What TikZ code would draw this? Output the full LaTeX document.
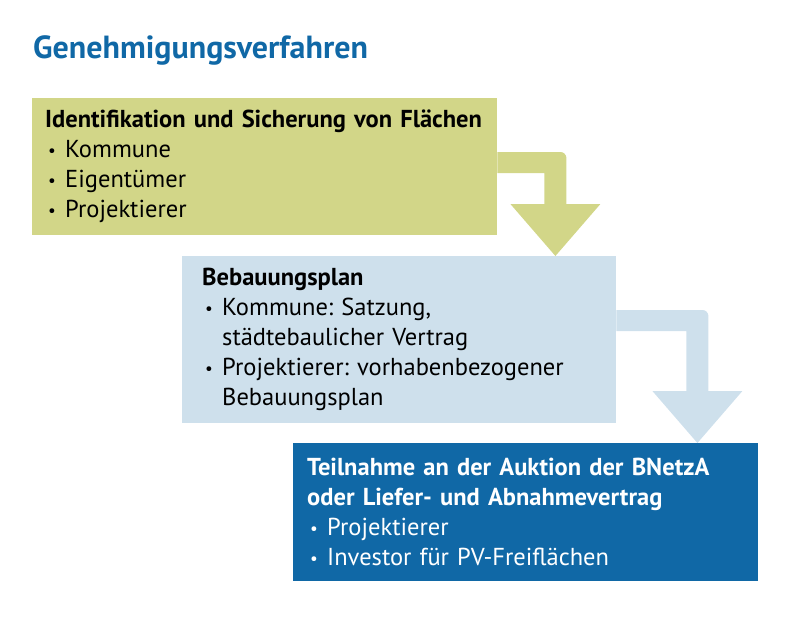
\documentclass[tikz,border=0pt]{standalone}
\usepackage{fontspec}
\setmainfont{PT Sans}
\usepackage{xcolor}
\usetikzlibrary{positioning,calc}
\definecolor{gruen}{HTML}{D2D688}
\definecolor{hellblau}{HTML}{CEE0EC}
\definecolor{dunkelblau}{HTML}{1068A6}
\frenchspacing
\newcommand{\punkt}[1]{\par\hangindent=20pt\hangafter=1\noindent\makebox[20pt][l]{\hspace{3pt}\raisebox{1.5pt}{\scalebox{0.7}{\textbullet}}}#1\par}
\newcommand{\stufenpfeil}[3]{%
  \fill[#1] let \p1=(#2.north east), \p2=($(#3.north east)+(-61,0)$) in
    (\x1,\y1-54pt) [rounded corners=6pt] -- (\x2+11pt,\y1-54pt) [sharp corners] -- (\x2+11pt,\y2+52pt)
    -- (\x2+45pt,\y2+52pt) -- (\x2,\y2) -- (\x2-45pt,\y2+52pt) -- (\x2-11pt,\y2+52pt)
    -- (\x2-11pt,\y1-75pt) -- (\x1,\y1-75pt) -- cycle;}

\begin{document}
\begin{tikzpicture}[x=1pt, y=-1pt,
  kasten/.style={anchor=north west, inner sep=0pt, align=left, font=\fontsize{24.5}{30}\selectfont},
  titel/.style={anchor=base west, inner sep=0pt, text=dunkelblau, font=\fontsize{32}{36}\selectfont\bfseries}]
\useasboundingbox (0,0) rectangle (792,625);
\node[titel] (kopf) at (33,58) {Genehmigungsverfahren};
\node[kasten, fill=gruen, minimum width=465pt, minimum height=137pt, inner xsep=13pt, text width=439pt] (flaechen) at (32,98)
  {\textbf{Identifikation und Sicherung von Flächen}\punkt{Kommune}\punkt{Eigentümer}\punkt{Projektierer}};
\node[kasten, fill=hellblau, minimum width=434pt, minimum height=167pt, inner xsep=20pt, text width=394pt] (bplan) at (182,256)
  {\textbf{Bebauungsplan}\punkt{Kommune: Satzung,\newline städtebaulicher Vertrag}\punkt{Projektierer: vorhabenbezogener\newline Bebauungsplan}};
\node[kasten, fill=dunkelblau, text=white, minimum width=465pt, minimum height=138pt, inner xsep=14pt, text width=437pt] (auktion) at (293,443)
  {\textbf{Teilnahme an der Auktion der BNetzA\newline oder Liefer- und Abnahmevertrag}\punkt{Projektierer}\punkt{Investor für PV-Freiflächen}};
\stufenpfeil{gruen}{flaechen}{bplan}
\stufenpfeil{hellblau}{bplan}{auktion}
\end{tikzpicture}
\end{document}
